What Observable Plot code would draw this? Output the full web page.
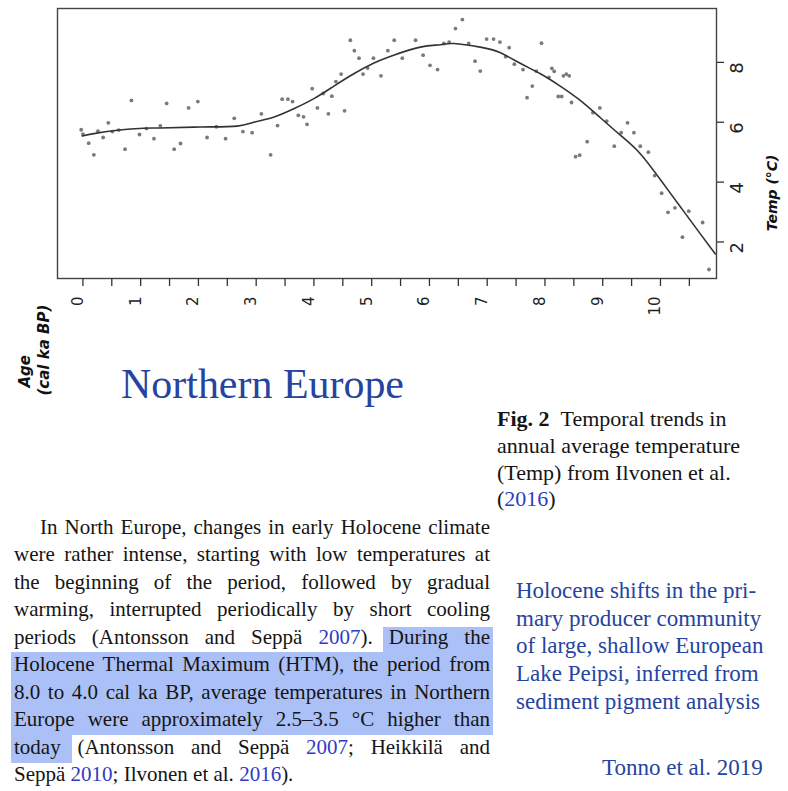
<!DOCTYPE html>
<html><head><meta charset="utf-8">
<script src="https://cdn.jsdelivr.net/npm/d3@7"></script>
<script src="https://cdn.jsdelivr.net/npm/@observablehq/plot@0.6"></script>
<style>
html,body{margin:0;padding:0;background:#fff;}
body{width:788px;height:791px;position:relative;overflow:hidden;}
#chart{position:absolute;left:0;top:0;}
.t{position:absolute;white-space:nowrap;font-family:"Liberation Serif","Times New Roman",serif;line-height:1;color:#151515;}
.hl{position:absolute;background:#abc0f7;}
.blue{color:#2f3bc4;}
</style></head><body>
<div id="chart"></div>
<script>
// ---- data ----
const ageKa = [-0.03,0.00,0.10,0.19,0.26,0.35,0.44,0.51,0.62,0.73,0.84,0.98,1.10,1.23,1.34,1.45,1.58,1.69,1.83,1.99,2.15,2.31,2.47,2.62,2.77,2.93,3.09,3.25,3.37,3.45,3.55,3.63,3.73,3.82,3.88,3.97,4.06,4.16,4.25,4.31,4.38,4.47,4.53,4.63,4.70,4.78,4.85,4.93,5.03,5.16,5.28,5.39,5.53,5.76,5.89,6.01,6.14,6.25,6.34,6.45,6.57,6.68,6.79,6.88,6.99,7.11,7.22,7.32,7.38,7.47,7.62,7.69,7.78,7.85,7.94,8.07,8.12,8.16,8.23,8.29,8.32,8.37,8.42,8.46,8.53,8.60,8.73,8.83,8.95,9.07,9.20,9.32,9.43,9.54,9.65,9.79,9.90,10.02,10.13,10.25,10.38,10.49,10.73,10.84];
const tempC = [5.75,5.60,5.30,4.91,5.70,5.49,5.98,5.69,5.74,5.10,6.73,5.59,5.79,5.45,5.88,6.63,5.10,5.29,6.48,6.69,5.49,5.85,5.45,6.13,5.69,5.65,6.28,4.91,5.89,6.77,6.77,6.69,6.23,6.18,5.93,7.12,6.48,6.96,6.28,6.87,7.36,7.61,6.38,8.74,8.39,8.14,7.61,7.81,8.14,7.55,8.39,8.74,8.14,8.74,8.24,7.90,7.76,8.63,8.68,9.13,9.43,8.63,8.04,7.71,8.78,8.78,8.68,8.19,8.49,7.94,7.76,6.82,7.21,7.71,8.64,7.50,7.80,7.70,6.86,6.86,7.55,7.61,7.55,6.66,4.85,4.90,5.35,6.32,6.48,6.04,5.20,5.65,5.98,5.65,5.20,5.00,4.22,3.63,2.99,3.14,2.16,3.03,2.65,1.08];
const trendAge = [-0.01,0.19,0.59,1.05,1.34,2.03,2.67,2.96,3.30,3.65,4.00,4.34,4.69,5.04,5.38,5.84,6.19,6.42,6.88,7.23,7.58,7.92,8.27,8.61,8.96,9.31,9.65,10.00,10.35,10.69,10.95];
const trendTemp = [5.54,5.62,5.73,5.80,5.81,5.84,5.87,6.00,6.17,6.45,6.79,7.20,7.62,7.98,8.24,8.51,8.59,8.63,8.51,8.32,7.96,7.62,7.20,6.73,6.15,5.56,4.95,4.08,3.16,2.27,1.60];
const ageTicks = [0,1,2,3,4,5,6,7,8,9,10];
const ageMinorTicks = [0,0.5,1,1.5,2,2.5,3,3.5,4,4.5,5,5.5,6,6.5,7,7.5,8,8.5,9,9.5,10,10.5];
const tempTicks = [2,4,6,8];
const tempLabel = "Temp (°C)";
const ageLabel = ["Age", "(cal ka BP)"];

const titleText = "Northern Europe";
const captionLines = ['<b>Fig. 2</b>&nbsp;&nbsp;Temporal trends in','annual average temperature','(Temp) from Ilvonen et al.','(<span class="blue">2016</span>)'];
const paraLines = [
 'In North Europe, changes in early Holocene climate',
 'were rather intense, starting with low temperatures at',
 'the beginning of the period, followed by gradual',
 'warming, interrupted periodically by short cooling',
 'periods (Antonsson and Seppä <span class="blue">2007</span>). During the',
 'Holocene Thermal Maximum (HTM), the period from',
 '8.0 to 4.0 cal ka BP, average temperatures in Northern',
 'Europe were approximately 2.5–3.5 °C higher than',
 'today (Antonsson and Seppä <span class="blue">2007</span>; Heikkilä and',
 'Seppä <span class="blue">2010</span>; Ilvonen et al. <span class="blue">2016</span>).'
];
const sideLines = ['Holocene shifts in the pri-','mary producer community','of large, shallow European','Lake Peipsi, inferred from','sediment pigment analysis'];
const sourceText = 'Tonno et al. 2019';

// ---- chart ----
const pts = ageKa.map((a,i)=>({age:a, temp:tempC[i]}));
const trend = trendAge.map((a,i)=>({age:a, temp:trendTemp[i]}));
const ink = "#2a2a2a";
const chart = Plot.plot({
  width: 788, height: 410,
  marginLeft: 57, marginRight: 72, marginTop: 8, marginBottom: 132,
  style: {fontFamily: "DejaVu Sans", fontSize: "15px", color: ink, background: "transparent", overflow: "visible"},
  x: {domain: [-0.44, 10.97]},
  y: {domain: [0.78, 9.8]},
  marks: [
    Plot.dot(pts, {x: "age", y: "temp", r: 1.9, fill: "#7a7a7a", stroke: "none"}),
    Plot.line(trend, {x: "age", y: "temp", stroke: "#333", strokeWidth: 1.6, curve: "natural"}),
    Plot.frame({stroke: "#444", strokeWidth: 1.4}),
    Plot.axisX(ageMinorTicks, {tickSize: 8, tickFormat: () => "", label: null, stroke: "#333", strokeWidth: 1.3}),
    Plot.text(ageTicks, {x: d => d, text: d => String(d), frameAnchor: "bottom", dy: 18, rotate: -90, textAnchor: "end", fontSize: 15, fill: "#222"}),
    Plot.axisY(tempTicks, {anchor: "right", tickSize: 7, tickFormat: () => "", label: null, stroke: "#333", strokeWidth: 1.3}),
    Plot.text(tempTicks, {y: d => d, text: d => String(d), frameAnchor: "right", dx: 21, rotate: -90, fontSize: 18, fill: "#222"}),
    Plot.text([tempLabel], {text: d => d, frameAnchor: "right", dx: 56, dy: 11, rotate: -90, fontSize: 14, fontWeight: "bold", fontStyle: "italic", fill: "#111"}),
    Plot.text([ageLabel[0]], {text: d => d, frameAnchor: "bottom-left", dx: -28, dy: 109, rotate: -90, textAnchor: "start", fontSize: 15, fontWeight: "bold", fontStyle: "italic", fill: "#111"}),
    Plot.text([ageLabel[1]], {text: d => d, frameAnchor: "bottom-left", dx: -8.7, dy: 117, rotate: -90, textAnchor: "start", fontSize: 15, fontWeight: "bold", fontStyle: "italic", fill: "#111"})
  ]
});
document.getElementById("chart").append(chart);

// ---- surrounding text ----
function put(html, x, baseline, size, opts = {}) {
  const d = document.createElement("div");
  d.className = "t";
  d.innerHTML = html;
  d.style.left = x + "px";
  d.style.top = (baseline - 0.8375 * size) + "px";
  d.style.fontSize = size + "px";
  if (opts.color) d.style.color = opts.color;
  document.body.append(d);
  if (opts.width) {
    const nat = d.getBoundingClientRect().width;
    if (opts.justify) {
      d.style.whiteSpace = "normal";
      d.style.textAlign = "justify";
      d.style.textAlignLast = "justify";
      if (nat <= opts.width) {
        d.style.width = opts.width + "px";
      } else {
        d.style.width = (nat + 1) + "px";
        d.style.transformOrigin = "0 0";
        d.style.transform = `scaleX(${opts.width / (nat + 1)})`;
      }
    } else if (opts.fit || nat > opts.width) {
      d.style.transformOrigin = "0 0";
      d.style.transform = `scaleX(${opts.width / nat})`;
    }
  }
  return d;
}
function box(x, y, w, h) {
  const b = document.createElement("div");
  b.className = "hl";
  Object.assign(b.style, {left: x + "px", top: y + "px", width: w + "px", height: h + "px"});
  document.body.append(b);
}

// highlight behind paragraph lines 5-9
const lh = 27.5, pb0 = 534.5;
box(383, pb0 + 4 * lh - 17.5, 110, lh);
box(11, pb0 + 5 * lh - 20, 482, 3 * lh);
box(11, pb0 + 8 * lh - 20, 61, lh + 0.5);

put(titleText, 121, 398, 43, {color: "#2544a0", width: 283, fit: true});
captionLines.forEach((s, i) => put(s, 497, 426.7 + i * 26.7, 22, {width: 275}));
paraLines.forEach((s, i) => {
  const x = i === 0 ? 40 : 14;
  const w = i === 0 ? 450 : 476;
  put(s, x, pb0 + i * lh, 21, {width: w, justify: i < paraLines.length - 1});
});
sideLines.forEach((s, i) => put(s, 516, 598 + i * 27.8, 23, {color: "#2544a0", width: 250}));
put(sourceText, 602, 775.5, 23, {color: "#2544a0"});
</script>
</body></html>
